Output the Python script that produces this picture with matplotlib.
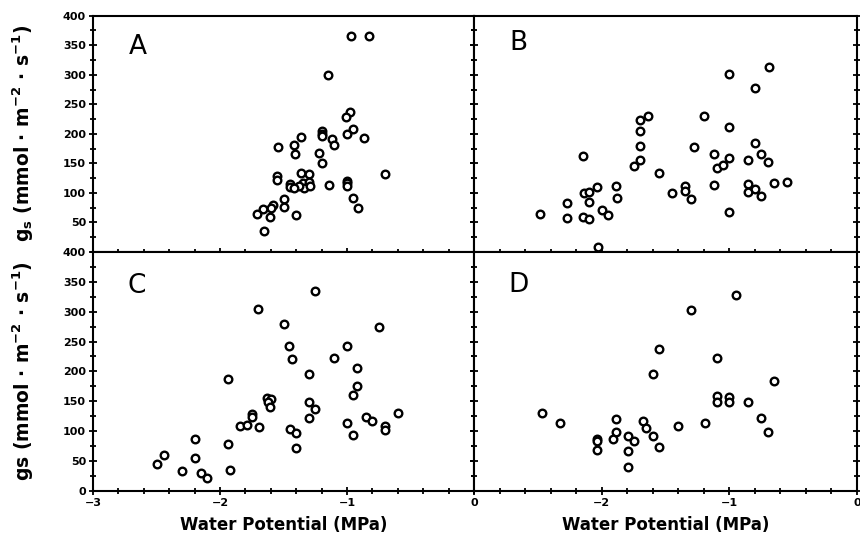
import matplotlib
matplotlib.use("Agg")
import matplotlib.pyplot as plt
from matplotlib.ticker import MultipleLocator

# ---- data ----
A_x = [-0.97, -0.83, -1.15, -0.98, -1.005, -0.95, -1.0, -0.87, -1.2, -1.2, -1.2, -1.12, -1.10,
       -1.22, -1.2, -0.70, -1.14, -1.0, -1.0, -1.0, -0.95, -0.91, -1.36, -1.42, -1.41, -1.54,
       -1.555, -1.55, -1.36, -1.30, -1.45, -1.45, -1.35, -1.34, -1.30, -1.29, -1.38, -1.42,
       -1.50, -1.50, -1.58, -1.60, -1.66, -1.71, -1.61, -1.40, -1.65]
A_y = [366, 366, 300, 237, 228, 208, 199, 193, 205, 200, 197, 192, 181,
       168, 150, 132, 113, 120, 116, 112, 92, 74, 194, 181, 166, 177,
       128, 122, 134, 132, 115, 110, 117, 109, 118, 112, 112, 108,
       90, 77, 79, 74, 72, 64, 59, 63, 35]

B_x = [-2.48, -2.27, -2.27, -2.15, -2.10, -2.15, -2.14, -2.10, -2.10, -2.04, -2.0, -1.95,
       -2.03, -1.89, -1.88, -1.75, -1.70, -1.70, -1.70, -1.70, -1.64, -1.55, -1.45, -1.35,
       -1.35, -1.30, -1.28, -1.20, -1.12, -1.12, -1.10, -1.05, -1.0, -1.0, -1.0, -1.0,
       -0.85, -0.85, -0.85, -0.80, -0.75, -0.80, -0.80, -0.75, -0.70, -0.69, -0.65, -0.55]
B_y = [64, 83, 58, 59, 56, 163, 100, 101, 84, 110, 71, 63,
       8, 112, 92, 146, 155, 180, 204, 224, 230, 134, 100, 112,
       104, 90, 178, 230, 166, 114, 143, 148, 159, 302, 211, 67,
       156, 115, 101, 107, 94, 184, 278, 166, 153, 314, 116, 119]

C_x = [-2.50, -2.44, -2.30, -2.20, -2.20, -2.15, -2.10, -1.94, -1.94, -1.92, -1.845, -1.79,
       -1.75, -1.75, -1.69, -1.70, -1.63, -1.60, -1.62, -1.61, -1.50, -1.455, -1.43, -1.45,
       -1.40, -1.40, -1.25, -1.30, -1.30, -1.25, -1.30, -1.10, -1.0, -1.0, -0.95, -0.92,
       -0.92, -0.95, -0.85, -0.80, -0.75, -0.70, -0.70, -0.60]
C_y = [45, 60, 33, 87, 54, 30, 21, 188, 78, 35, 109, 110,
       129, 124, 106, 304, 155, 153, 148, 141, 279, 242, 220, 103,
       96, 71, 335, 195, 148, 137, 122, 222, 243, 113, 93, 206,
       176, 160, 124, 117, 275, 109, 101, 130]

D_x = [-2.47, -2.33, -2.04, -2.04, -2.04, -1.89, -1.89, -1.91, -1.79, -1.745, -1.79, -1.79,
       -1.68, -1.65, -1.60, -1.55, -1.60, -1.55, -1.40, -1.30, -1.19, -1.10, -1.10, -1.10,
       -1.0, -1.0, -0.95, -0.85, -0.75, -0.70, -0.65]
D_y = [131, 114, 87, 83, 68, 120, 99, 87, 91, 84, 67, 39,
       117, 105, 91, 73, 195, 238, 109, 303, 113, 223, 158, 148,
       157, 148, 328, 149, 122, 99, 184]

panels = [("A", A_x, A_y), ("B", B_x, B_y), ("C", C_x, C_y), ("D", D_x, D_y)]

xlim = (-3, 0)
ylim = (0, 400)
top_yticks = [50, 100, 150, 200, 250, 300, 350, 400]
bot_yticks = [0, 50, 100, 150, 200, 250, 300, 350, 400]
left_xticks = [-3, -2, -1, 0]
right_xticks = [-2, -1, 0]

ylabel_top = r"$\mathbf{g_s}$ (mmol $\mathbf{\cdot}$ m$^{\mathbf{-2}}$ $\mathbf{\cdot}$ s$^{\mathbf{-1}}$)"
ylabel_bot = r"gs (mmol $\mathbf{\cdot}$ m$^{\mathbf{-2}}$ $\mathbf{\cdot}$ s$^{\mathbf{-1}}$)"
xlabel = "Water Potential (MPa)"

plt.rcParams['font.family'] = ['DejaVu Sans']
plt.rcParams['mathtext.fontset'] = 'dejavusans'

fig = plt.figure(figsize=(8.6, 5.41), dpi=100)
W, H = 860, 541
xl, xm, xr = 93, 474, 857
yt, ym, yb = 15.7, 252, 490.7

rects = {
    "A": [xl / W, 1 - ym / H, (xm - xl) / W, (ym - yt) / H],
    "B": [xm / W, 1 - ym / H, (xr - xm) / W, (ym - yt) / H],
    "C": [xl / W, 1 - yb / H, (xm - xl) / W, (yb - ym) / H],
    "D": [xm / W, 1 - yb / H, (xr - xm) / W, (yb - ym) / H],
}
letter_pos = {"A": (0.118, 0.868), "B": (0.115, 0.884), "C": (0.115, 0.857), "D": (0.115, 0.862)}

for name, xs, ys in panels:
    ax = fig.add_axes(rects[name])
    ax.scatter(xs, ys, s=30, facecolors='white', edgecolors='black', linewidths=1.7, zorder=3,
               clip_on=False)
    ax.set_xlim(*xlim)
    ax.set_ylim(*ylim)
    for sp in ax.spines.values():
        sp.set_linewidth(1.5)
    ax.xaxis.set_minor_locator(MultipleLocator(0.2))
    ax.yaxis.set_minor_locator(MultipleLocator(25))
    top = name in ("A", "B")
    left = name in ("A", "C")
    ax.set_yticks(top_yticks if top else bot_yticks)
    ax.set_xticks(left_xticks if left else right_xticks)
    ax.tick_params(which='both', direction='inout', left=True, right=True,
                   bottom=True, top=False, width=1.3)
    ax.tick_params(which='major', length=6)
    ax.tick_params(which='minor', length=4)
    ax.tick_params(labelleft=left, labelbottom=not top, labelsize=8, pad=2)
    for lab in ax.get_xticklabels() + ax.get_yticklabels():
        lab.set_fontweight('bold')
    ax.text(*letter_pos[name], name, transform=ax.transAxes, fontsize=19,
            ha='center', va='center')
    if not top:
        ax.set_xlabel(xlabel, fontsize=12, fontweight='bold', labelpad=6)
    if left:
        lab = ylabel_top if top else ylabel_bot
        ax.set_ylabel(lab, fontsize=13.5, fontweight='bold')
        ax.yaxis.set_label_coords(-0.15, 0.5)

fig.savefig("out.png", dpi=100)
